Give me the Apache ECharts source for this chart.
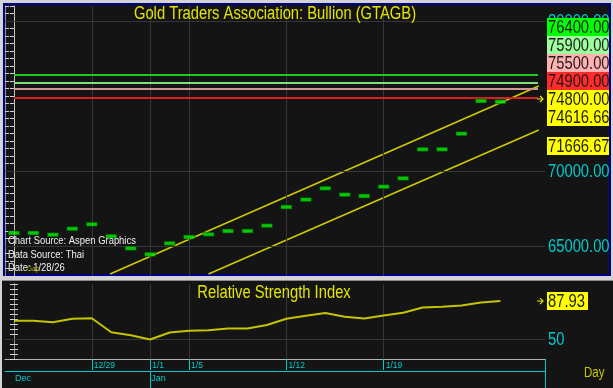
<!DOCTYPE html>
<html><head><meta charset="utf-8">
<script src="https://cdn.jsdelivr.net/npm/echarts@6/dist/echarts.min.js"></script>
<style>html,body{margin:0;padding:0;background:#d4d4d4;}#c{width:613px;height:388px;}</style>
</head><body><div id="c"></div>
<script>
// ---- data ----
const dates = ['12/23','12/24','12/25','12/26','12/29','12/30','12/31','1/1','1/2','1/5','1/6','1/7','1/8','1/9','1/12','1/13','1/14','1/15','1/16','1/19','1/20','1/21','1/22','1/23','1/26','1/27'];
const closes = [65867,65867,65750,66150,66450,65650,64847,64447,65180,65600,65780,66000,66000,66353,67600,68087,68847,68420,68333,68953,69513,71447,71447,72487,74667,74616.66];
const rsi = [68.3,68.3,66.8,70.3,70.8,56.8,53.8,49.5,56.5,58.3,58.8,60.6,60.6,64.0,70.3,73.3,76.0,72.3,70.6,73.6,76.3,81.5,82.3,83.5,86.5,87.93];
const dateTickIdx = [4,7,9,14,19];
const monthNames = ['Dec','Jan'];
const monthStartIdx = [0,7];
const monthTickIdx = [7];
const levelValues = [76400,75900,75500,74900];
const levelColors = ['#1ec81e','#80e080','#d09696','#dc2020'];
const levelSpan = [0,26.93];
const upperChannel = [[4.94,63133],[26.97,75667]];
const lowerChannel = [[10.0,63131],[26.97,72733]];
const priceGridValues = [65000,70000,80000];
const priceAxisLabels = [65000,70000,80000];
const rsiGridValues = [50];
const rsiAxisLabels = [50];
const markerValue = 74800;
const boxValues = [76400,75900,75500,74900,74800,74616.66,71666.67];
const boxColors = ['#00ff00','#9cff9c','#ffb0b0','#ff2a2a','#ffff00','#ffff00','#ffff00'];
const boxAnchor = 4;
const xMin = -0.46, xMax = 27.29;

const FONT = "'Liberation Sans Narrow','Arial Narrow','Liberation Sans',Arial,sans-serif";
const SX = 0.82; // horizontal condensing of text
const CYAN = '#00cccc';
const YEL = '#e4e400';
const GRIDC = '#363636';

const chart = echarts.init(document.getElementById('c'), null, {renderer:'canvas'});

const option = {
  backgroundColor: '#d4d4d4',
  animation: false,
  grid: [
    {left:5, right:68, top:6, bottom:112, outerBoundsMode:'none', containLabel:false},
    {left:5, right:68, top:284, bottom:29, outerBoundsMode:'none', containLabel:false}
  ],
  xAxis: [
    {gridIndex:0, type:'value', min:xMin, max:xMax, show:false},
    {gridIndex:1, type:'value', min:xMin, max:xMax, position:'bottom',
      axisLine:{show:true, onZero:false, lineStyle:{color:'#b4b4b4', width:1}},
      axisTick:{show:true, customValues:dateTickIdx, length:11, lineStyle:{color:CYAN}},
      axisLabel:{show:true, customValues:dateTickIdx, formatter:v=>dates[v]||'', color:CYAN, fontSize:8.5, fontFamily:FONT, align:'left', margin:2, padding:[0,0,0,2]},
      splitLine:{show:false}},
    {gridIndex:1, type:'value', min:xMin, max:xMax, position:'bottom', offset:12,
      axisLine:{show:true, onZero:false, lineStyle:{color:CYAN, width:1}},
      axisTick:{show:true, customValues:monthTickIdx, length:20, lineStyle:{color:CYAN}},
      axisLabel:{show:true, customValues:monthStartIdx, formatter:v=>monthNames[monthStartIdx.indexOf(v)]||'', color:CYAN, fontSize:9, fontFamily:FONT, align:'left', margin:3, padding:[0,0,0,1]},
      splitLine:{show:false}}
  ],
  yAxis: [
    {gridIndex:0, type:'value', position:'right', min:63000, max:81000, interval:500,
      axisLine:{show:true, lineStyle:{color:'#c0c0c0'}},
      axisTick:{show:true, inside:true, length:4, lineStyle:{color:'#d8d8d8'}},
      axisLabel:{show:false}, splitLine:{show:false}},
    {gridIndex:0, type:'value', position:'left', min:63000, max:81000, interval:500,
      axisLine:{show:true, lineStyle:{color:'#909090'}},
      axisTick:{show:true, inside:true, length:4, lineStyle:{color:'#cfcfcf'}},
      axisLabel:{show:false}, splitLine:{show:false}},
    {gridIndex:1, type:'value', position:'right', min:30, max:105, interval:5,
      axisLine:{show:true, lineStyle:{color:'#c0c0c0'}},
      axisTick:{show:true, inside:true, length:4, lineStyle:{color:'#d8d8d8'}},
      axisLabel:{show:false}, splitLine:{show:false}},
    {gridIndex:1, type:'value', position:'left', min:30, max:105, interval:5,
      axisLine:{show:true, lineStyle:{color:'#909090'}},
      axisTick:{show:true, inside:true, length:4, lineStyle:{color:'#cfcfcf'}},
      axisLabel:{show:false}, splitLine:{show:false}}
  ],
  series: [
    { // main grid lines
      type:'line', xAxisIndex:0, yAxisIndex:0, data:[], z:1, silent:true,
      markLine:{silent:true, symbol:'none', animation:false, label:{show:false},
        lineStyle:{color:GRIDC, width:1, type:'solid'},
        data:[...priceGridValues.map(v=>({yAxis:v})), ...dateTickIdx.map(i=>({xAxis:i}))]}
    },
    { // level lines
      type:'line', xAxisIndex:0, yAxisIndex:0, data:[], z:3, silent:true,
      markLine:{silent:true, symbol:'none', animation:false, label:{show:false},
        data: levelValues.map((v,k)=>[{coord:[levelSpan[0],v], lineStyle:{color:levelColors[k], width:2, type:'solid'}},{coord:[levelSpan[1],v]}])}
    },
    {type:'line', xAxisIndex:0, yAxisIndex:0, data:upperChannel, symbol:'none', z:4, clip:true,
      lineStyle:{color:'#cccc00', width:1.6}},
    {type:'line', xAxisIndex:0, yAxisIndex:0, data:lowerChannel, symbol:'none', z:4, clip:true,
      lineStyle:{color:'#cccc00', width:1.6}},
    {type:'scatter', xAxisIndex:0, yAxisIndex:0, z:5,
      data: closes.map((v,i)=>[i,v]), symbol:'rect', symbolSize:[11,4],
      itemStyle:{color:'#00f000', borderColor:'#063806', borderWidth:0.6}},
    { // rsi grid lines
      type:'line', xAxisIndex:1, yAxisIndex:2, data:[], z:1, silent:true,
      markLine:{silent:true, symbol:'none', animation:false, label:{show:false},
        lineStyle:{color:GRIDC, width:1, type:'solid'},
        data:[...rsiGridValues.map(v=>({yAxis:v})), ...dateTickIdx.map(i=>({xAxis:i}))]}
    },
    {type:'line', xAxisIndex:1, yAxisIndex:2, data: rsi.map((v,i)=>[i,v]), symbol:'none', z:5,
      lineStyle:{color:'#c4c400', width:2}}
  ]
};
chart.setOption(option);

function txt(x, y, text, fill, size, align, z){
  return {type:'text', z:z||20, x:x, y:y, scaleX:SX,
    style:{text:text, fill:fill, font:size+'px '+FONT, textAlign:align||'left', textVerticalAlign:'middle'}};
}

function buildGraphics(){
  const g = [];
  const rightX = chart.convertToPixel({xAxisIndex:0}, xMax);
  const leftX = chart.convertToPixel({xAxisIndex:0}, xMin);
  // panels
  g.push({type:'rect', z:-10, shape:{x:4,y:4,width:606,height:271}, style:{fill:'#141414', stroke:'#00008c', lineWidth:2}});
  g.push({type:'rect', z:-10, shape:{x:2,y:280,width:611,height:108}, style:{fill:'#141414', stroke:null}});
  g.push({type:'line', z:-9, shape:{x1:2,y1:280.5,x2:613,y2:280.5}, style:{stroke:'#8a8a8a', lineWidth:1}});
  // cyan right boundary of date strip
  const stripTop = chart.convertToPixel({yAxisIndex:2}, 30);
  g.push({type:'line', z:20, shape:{x1:rightX+0.5,y1:stripTop,x2:rightX+0.5,y2:388}, style:{stroke:CYAN, lineWidth:1}});
  // titles
  g.push(txt(275, 14, 'Gold Traders Association: Bullion (GTAGB)', YEL, 18, 'center'));
  g.push(txt(274, 293, 'Relative Strength Index', YEL, 18, 'center'));
  // source notes
  const notes = ['Chart Source: Aspen Graphics','Data Source: Thai','Date: 1/28/26'];
  notes.forEach((t,k)=>g.push(txt(leftX+3, 241+k*13.5, t, '#f0f0f0', 11.5)));
  g.push(txt(leftX+22, 269, 'Gap', '#a8a800', 8, 'left', 21));
  g.push(txt(584, 373, 'Day', '#c8c800', 14));
  // price axis labels
  priceAxisLabels.forEach(v=>{
    g.push(txt(rightX+3, chart.convertToPixel({yAxisIndex:0}, v)+1, v.toFixed(2), CYAN, 18, 'left', 40));
  });
  rsiAxisLabels.forEach(v=>{
    g.push(txt(rightX+3, chart.convertToPixel({yAxisIndex:2}, v)+1, String(v), CYAN, 18, 'left', 40));
  });
  // label boxes (stacked to avoid overlap)
  const H = 18;
  const pix = boxValues.map(v=>chart.convertToPixel({yAxisIndex:0}, v));
  const ys = pix.slice();
  for (let i=boxAnchor-1;i>=0;i--) ys[i] = Math.min(pix[i], ys[i+1]-H);
  for (let i=boxAnchor+1;i<ys.length;i++) ys[i] = Math.max(pix[i], ys[i-1]+H);
  boxValues.forEach((v,k)=>{
    g.push({type:'rect', z:50, shape:{x:rightX+2, y:ys[k]-H/2, width:62, height:H}, style:{fill:boxColors[k]}});
    g.push(txt(rightX+3, ys[k]+1, v.toFixed(2), '#1c1c1c', 18, 'left', 51));
  });
  // rsi value box
  const lastRsi = rsi[rsi.length-1];
  const ry = chart.convertToPixel({yAxisIndex:2}, lastRsi);
  g.push({type:'rect', z:50, shape:{x:rightX+2, y:ry-9, width:41, height:18}, style:{fill:'#ffff00'}});
  g.push(txt(rightX+3, ry+1, lastRsi.toFixed(2), '#1c1c1c', 18, 'left', 51));
  // arrows
  const arrow = (y)=>{
    const x2 = rightX-2, x1 = rightX-8;
    g.push({type:'polyline', z:30, shape:{points:[[x1,y],[x2,y]]}, style:{stroke:'#e8e800', lineWidth:1}});
    g.push({type:'polyline', z:30, shape:{points:[[x2-3,y-3],[x2,y],[x2-3,y+3]]}, style:{stroke:'#e8e800', lineWidth:1.2, fill:null}});
  };
  arrow(chart.convertToPixel({yAxisIndex:0}, markerValue));
  arrow(ry);
  chart.setOption({graphic:{elements:g}});
}
buildGraphics();
</script>
</body></html>
